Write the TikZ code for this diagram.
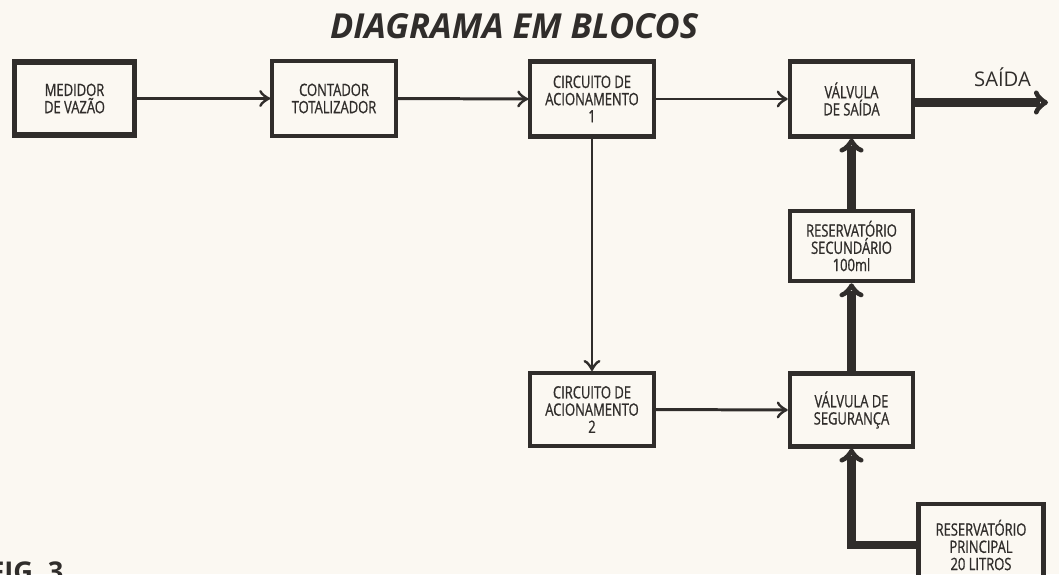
\documentclass[tikz,border=0pt]{standalone}
\usepackage{fontspec}
\setmainfont{Open Sans}
\newfontfamily\blocofont[FakeStretch=0.76, FakeBold=0.8]{Open Sans}
\usepackage{xcolor}
\usepackage{tikz}
\usetikzlibrary{arrows.meta, positioning}
\definecolor{papelcolor}{RGB}{251, 248, 242}
\definecolor{tintacolor}{RGB}{48, 45, 43}

\begin{document}
\begin{tikzpicture}[
  bloco/.style={draw=tintacolor, line width=2.3pt, minimum width=2.47cm, minimum height=1.5cm, align=center, text=tintacolor, font=\blocofont\fontsize{9.7}{9.8}\selectfont},
  seta/.style={draw=tintacolor, line width=1.7pt, -{Classical TikZ Rightarrow[length=2.2mm, width=3.4mm]}},
  setagrossa/.style={draw=tintacolor, line width=5pt, -{Classical TikZ Rightarrow[length=2.8mm, width=4.8mm, line width=2.6pt]}}
]
  % Fundo
  \fill[papelcolor] (0,0) rectangle (21.18,-11.48);
  \useasboundingbox (0,0) rectangle (21.18,-11.48);

  % Titulo
  \node[text=tintacolor, font=\bfseries\itshape\fontsize{19.6}{22}\selectfont] (titulo) at (10.28,-0.53) {DIAGRAMA EM BLOCOS};

  % Linha de cima
  \node[bloco, line width=3pt, minimum width=2.4cm, minimum height=1.46cm] (medidor) at (1.49,-1.97) {MEDIDOR\\DE VAZÃO};
  \node[bloco] (contador) at (6.68,-1.97) {CONTADOR\\TOTALIZADOR};
  \node[bloco] (circ1) at (11.84,-1.98) {CIRCUITO DE\\ACIONAMENTO\\1};
  \node[bloco] (vsaida) at (17.03,-1.98) {VÁLVULA\\DE SAÍDA};

  % Saida
  \coordinate (saida) at (20.96,-2.05);
  \node[text=tintacolor, font=\fontsize{11.5}{13}\selectfont] (lblsaida) at (20.05,-1.55) {SAÍDA};

  % Reservatorios e valvula de seguranca
  \node[bloco, minimum height=1.41cm] (rsec) at (17.03,-4.92) {RESERVATÓRIO\\SECUNDÁRIO\\100ml};
  \node[bloco, minimum height=1.46cm] (vseg) at (17.03,-8.2) {VÁLVULA DE\\SEGURANÇA};
  \node[bloco, minimum height=1.46cm] (circ2) at (11.84,-8.19) {CIRCUITO DE\\ACIONAMENTO\\2};
  \node[bloco, minimum width=2.5cm, minimum height=1.65cm] (rpri) at (19.62,-10.9) {RESERVATÓRIO\\PRINCIPAL\\20 LITROS};

  % Legenda
  \node[text=tintacolor, font=\bfseries\fontsize{15.5}{18}\selectfont, inner sep=0, anchor=base west] (fig) at (-0.22,-11.62) {FIG. 3};

  % Setas finas
  \draw[seta] (medidor.east) -- (contador.west);
  \draw[seta] (contador.east) -- (circ1.west);
  \draw[seta] (circ1.east) -- (vsaida.west);
  \draw[seta] (circ1.south) -- (circ2.north);
  \draw[seta] (circ2.east) -- (vseg.west);

  % Setas grossas
  \draw[setagrossa] (vsaida.east |- saida) -- (saida);
  \draw[setagrossa] (rsec.north) -- (vsaida.south);
  \draw[setagrossa] (vseg.north) -- (rsec.south);
  \draw[setagrossa] (rpri.west) -| (vseg.south);
\end{tikzpicture}
\end{document}
